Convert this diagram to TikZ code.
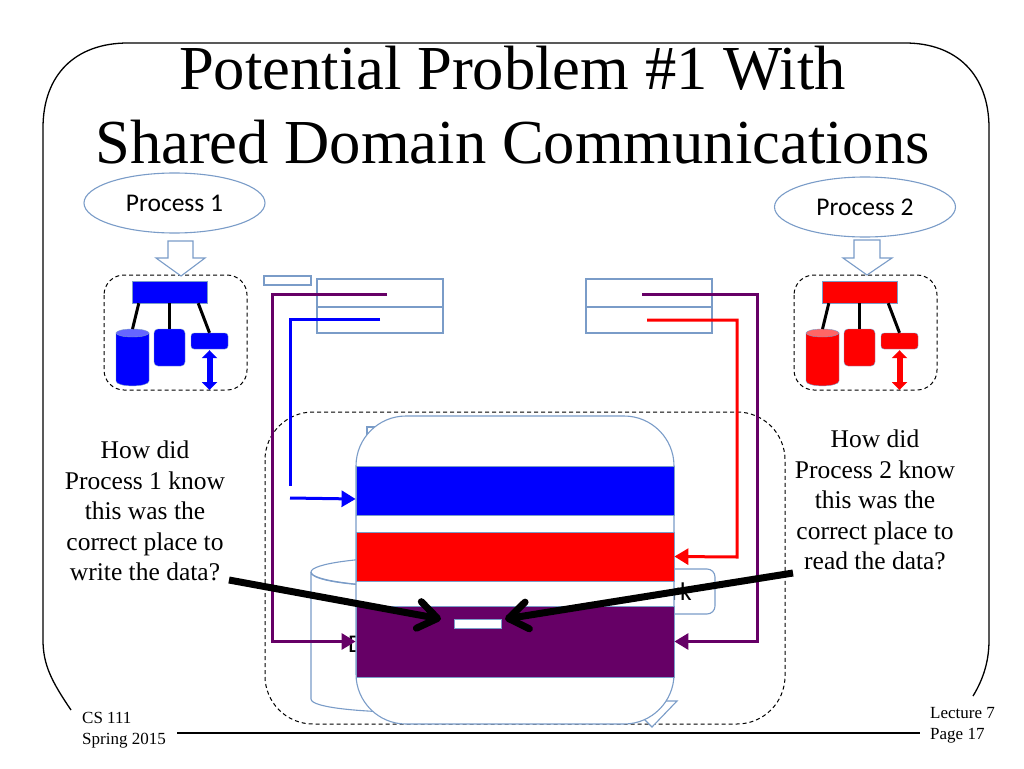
\documentclass[tikz,border=0pt]{standalone}
\usepackage{fontspec}
\setmainfont{Liberation Serif}
\newfontfamily\labelfont{Carlito}
\usetikzlibrary{arrows.meta,shapes.geometric}
\definecolor{shapeline}{HTML}{7A9CC8}
\definecolor{procpurple}{HTML}{660066}
\definecolor{bluelid}{HTML}{6666FF}
\definecolor{redlid}{HTML}{FF6666}
\tikzset{
  outline/.style={draw=shapeline, line width=1.1pt, fill=white},
  cutline/.style={black, dash pattern=on 4pt off 3pt, line width=1pt},
  band/.style={draw=shapeline, line width=.8pt, minimum width=318pt, inner sep=0pt},
  procoval/.style={ellipse, outline, minimum width=181pt, minimum height=60pt, inner sep=0pt, font=\labelfont\fontsize{25.5}{30}\selectfont},
  hiddentxt/.style={inner sep=0pt, font=\labelfont\fontsize{25.5}{30}\selectfont},
  asktext/.style={align=center, font=\fontsize{25.5}{30.5}\selectfont},
  foot/.style={align=left, anchor=north west, inner sep=0pt, font=\fontsize{17}{21}\selectfont},
  wire/.style={line width=3pt},
  wirein/.style={line width=3pt, -{Triangle[length=14pt,width=16pt]}},
  pointer/.style={black, line width=7pt, -{Straight Barb[length=19pt,width=27pt,round]}},
}
\begin{document}
\begin{tikzpicture}[x=1pt, y=-1pt]
    \useasboundingbox (0,0) rectangle (1024,768);
    \fill[white] (0,0) rectangle (1024,768);

    % slide frame
    \draw[line width=1.3pt] (71,710) .. controls (52,682) and (43,665) .. (43,640) -- (43,128)
        .. controls (43,75) and (75,43) .. (128,43) -- (905,43)
        .. controls (957,43) and (989,75) .. (989,128) -- (989,640)
        .. controls (989,660) and (984,678) .. (973,696);
    \draw[line width=1.3pt] (177,733) -- (920,733);

    \node[align=center, font=\fontsize{62.6}{74}\selectfont] (title) at (512.5,105) {Potential Problem \#1 With\\Shared Domain Communications};
    \node[foot] (course) at (82,712) {CS 111\\Spring 2015};
    \node[foot] (lecture) at (930,707) {Lecture 7\\Page 17};

    % the two processes
    \foreach \n/\dx/\col/\lid in {1/0/blue/bluelid,2/690/red/redlid} {
        \begin{scope}[xshift=\dx pt]
            \draw[cutline, rounded corners=20pt] (104,275) rectangle (247,390);
            \node[draw=shapeline, fill=\col, minimum width=75pt, minimum height=22pt, inner sep=0pt] (bus\n) at (169.5,292) {};
            \coordinate (disk\n) at (132.5,329);
            \draw[shapeline, fill=\col] (116,333) -- (116,381) .. controls (116,387.5) and (149,387.5) .. (149,381) -- (149,333) -- cycle;
            \draw[shapeline, fill=\lid] (132.5,333) ellipse [x radius=16.5pt, y radius=4pt];
            \node[draw=shapeline, fill=\col, rounded corners=4pt, minimum width=31pt, minimum height=37pt, inner sep=0pt] (mem\n) at (169.5,347.5) {};
            \node[draw=shapeline, fill=\col, rounded corners=3pt, minimum width=37pt, minimum height=16pt, inner sep=0pt] (dev\n) at (209.5,341) {};
            \coordinate (devend\n) at (209.5,390);
            \draw[line width=3pt] ([xshift=7pt]bus\n.south west) -- (disk\n);
            \draw[line width=3pt] (bus\n.south) -- (mem\n.north);
            \draw[line width=3pt] ([xshift=-9pt]bus\n.south east) -- (dev\n.north);
            \draw[\col, line width=6pt, {Triangle[length=8pt,width=15pt]}-{Triangle[length=8pt,width=15pt]}] ([yshift=-1pt]dev\n.south) -- (devend\n);
        \end{scope}
    }

    \node[procoval] (proc1) at (174.5,203) {Process 1};
    \node[procoval] (proc2) at (865,207) {Process 2};
    \draw[outline] (168,241) -- (193,241) -- (193,258) -- (205,258) -- (181,276) -- (156,258) -- (168,258) -- cycle;
    \draw[outline] (854,240) -- (880,240) -- (880,258) -- (892,258) -- (867,275) -- (843,258) -- (854,258) -- cycle;

    % file tables
    \draw[outline] (264,276) rectangle (311,285);
    \foreach \x in {317,586} {
        \draw[shapeline, line width=1.1pt] (\x,279) rectangle (\x+126,333);
        \draw[shapeline, line width=1.1pt] (\x,307) -- (\x+126,307);
    }

    % shared domain
    \draw[cutline, rounded corners=48pt] (265,412) rectangle (785,724);
    \draw[outline] (367,427) rectangle (420,480);
    \draw[outline] (640,701) -- (677,701) -- (652,727) -- (640,715) -- cycle;
    \draw[outline] (311,572) -- (311,699) .. controls (311,717) and (529,717) .. (529,699) -- (529,572) .. controls (529,592) and (311,592) .. (311,572);
    \draw[shapeline, line width=1.1pt] (420,572) ellipse [x radius=109pt, y radius=15pt];
    \draw[outline, rounded corners=8pt] (600,569) rectangle (715,614);
    \node[hiddentxt, anchor=base east] (disktxt) at (692,600) {rk};
    \node[hiddentxt, anchor=base west] (maptxt) at (348,652) {D};

    \draw[outline, rounded corners=50pt] (356,416) rectangle (674,724);
    \node[band, fill=blue, minimum height=49pt] (blueband) at (515,490.5) {};
    \node[band, fill=red, minimum height=49pt] (redband) at (515,556.5) {};
    \node[band, fill=procpurple, minimum height=71pt] (sharedband) at (515,641.5) {};
    \node[draw=shapeline, fill=white, minimum width=47pt, minimum height=9pt, inner sep=0pt] (slot) at (477.5,623.5) {};

    % descriptor wires
    \coordinate (p1top) at (387,294);
    \coordinate (p1bot) at (380,319);
    \coordinate (p1end) at (290,486);
    \coordinate (p1in) at (290,498);
    \coordinate (p2top) at (642,294);
    \coordinate (p2bot) at (647,320);
    \draw[procpurple, wirein] (p1top) -- (272,294) -- (272,641.5) -- (sharedband.west);
    \draw[blue, wire] (p1bot) -- (290,319) -- (p1end);
    \draw[blue, wirein] (p1in) -- ([yshift=-8.5pt]blueband.west);
    \draw[procpurple, wirein] (p2top) -- (757,294) -- (757,641.5) -- (sharedband.east);
    \draw[red, wirein] (p2bot) -- (737,320) -- (737,557) -- (redband.east);

    % questions
    \node[asktext] (ask1) at (145,511) {How did\\Process 1 know\\this was the\\correct place to\\write the data?};
    \node[asktext] (ask2) at (875,500) {How did\\Process 2 know\\this was the\\correct place to\\read the data?};
    \coordinate (ask1end) at (229,580);
    \coordinate (ask2end) at (793,573);
    \coordinate (slotl) at (441,619);
    \coordinate (slotr) at (505,619);
    \draw[pointer] (ask1end) -- (slotl);
    \draw[pointer] (ask2end) -- (slotr);
\end{tikzpicture}
\end{document}
